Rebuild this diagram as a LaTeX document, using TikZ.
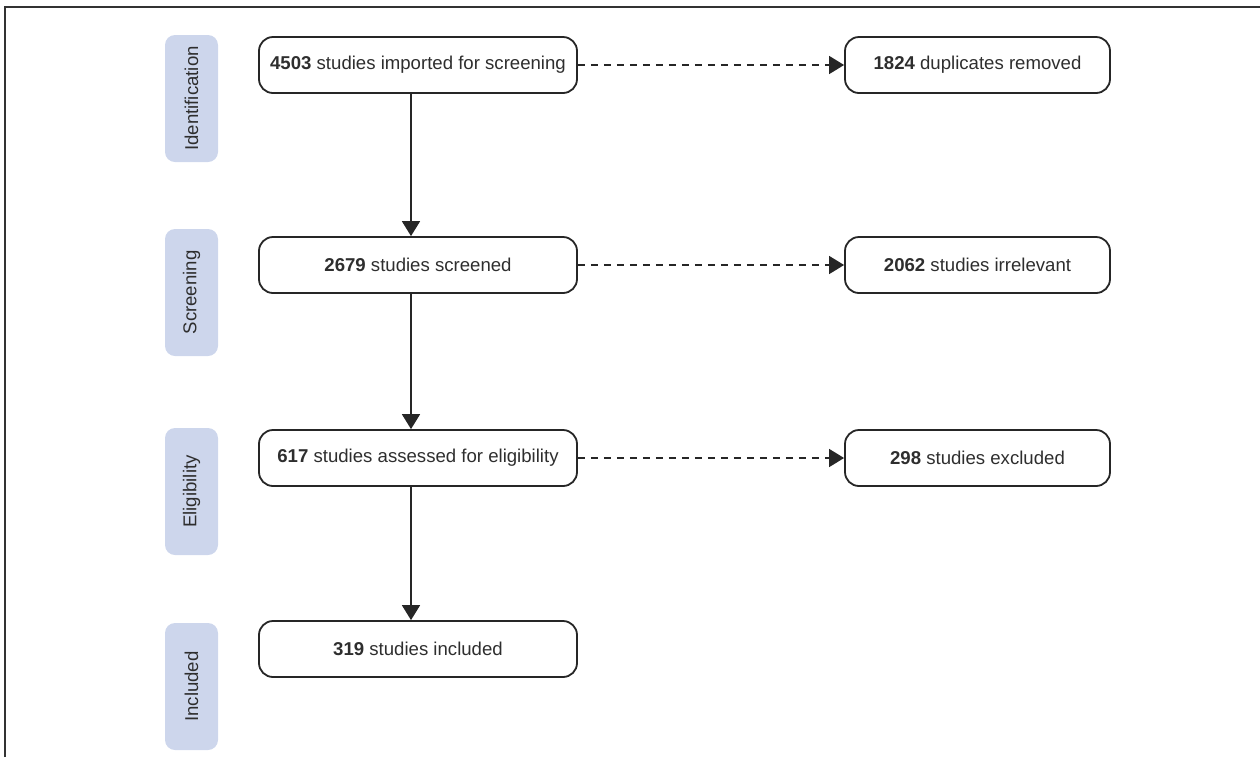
\documentclass[tikz,border=0pt]{standalone}
\usepackage{fontspec}
\setmainfont{Liberation Sans}
\usetikzlibrary{arrows.meta}
\definecolor{txt}{HTML}{2E2E2E}
\definecolor{stage}{HTML}{CDD6EC}
\begin{document}
\begin{tikzpicture}[x=0.5pt,y=-0.5pt,
  box/.style={draw=black!85,line width=0.9pt,rounded corners=7pt,minimum width=159pt,minimum height=28pt,inner sep=0pt,font=\fontsize{9.3}{11}\selectfont,text=txt},
  sidebox/.style={draw=black!85,line width=0.9pt,rounded corners=7pt,minimum width=132.5pt,minimum height=28pt,inner sep=0pt,font=\fontsize{9.3}{11}\selectfont,text=txt},
  stagebox/.style={fill=stage,rounded corners=5pt,minimum width=26.5pt,minimum height=63.5pt,inner sep=0pt,font=\fontsize{9.3}{11}\selectfont,text=txt},
  solidarrow/.style={line width=0.9pt,draw=black!85,-{Triangle[width=9pt,length=7.5pt]}},
  dasharrow/.style={line width=0.75pt,draw=black!85,dash pattern=on 3.5pt off 3pt,-{Triangle[width=9pt,length=7.5pt]}}]
\useasboundingbox (0,0) rectangle (1260,757);
% frame
\draw[line width=0.8pt,black!80] (5,757) -- (5,7) -- (1260,7);
% stage labels
\node[stagebox] (s1) at (191.5,98.5) {\rotatebox{90}{Identification}};
\node[stagebox] (s2) at (191.5,292.5) {\rotatebox{90}{Screening}};
\node[stagebox] (s3) at (191.5,491.5) {\rotatebox{90}{Eligibility}};
\node[stagebox] (s4) at (191.5,686.5) {\rotatebox{90}{Included}};
% main boxes
\node[box] (b1) at (418,65) {\textbf{4503} studies imported for screening};
\node[box] (b2) at (418,265) {\textbf{2679} studies screened};
\node[box] (b3) at (418,458) {\textbf{617} studies assessed for eligibility};
\node[box] (b4) at (418,649) {\textbf{319} studies included};
% side boxes
\node[sidebox] (r1) at (977.5,65) {\textbf{1824} duplicates removed};
\node[sidebox] (r2) at (977.5,265) {\textbf{2062} studies irrelevant};
\node[sidebox] (r3) at (977.5,458) {\textbf{298} studies excluded};
% arrows
\coordinate (c1) at (411,0);
\draw[solidarrow] (b1.south -| c1) -- (b2.north -| c1);
\draw[solidarrow] (b2.south -| c1) -- (b3.north -| c1);
\draw[solidarrow] (b3.south -| c1) -- (b4.north -| c1);
\draw[dasharrow] (b1.east) -- (r1.west);
\draw[dasharrow] (b2.east) -- (r2.west);
\draw[dasharrow] (b3.east) -- (r3.west);
\end{tikzpicture}
\end{document}
